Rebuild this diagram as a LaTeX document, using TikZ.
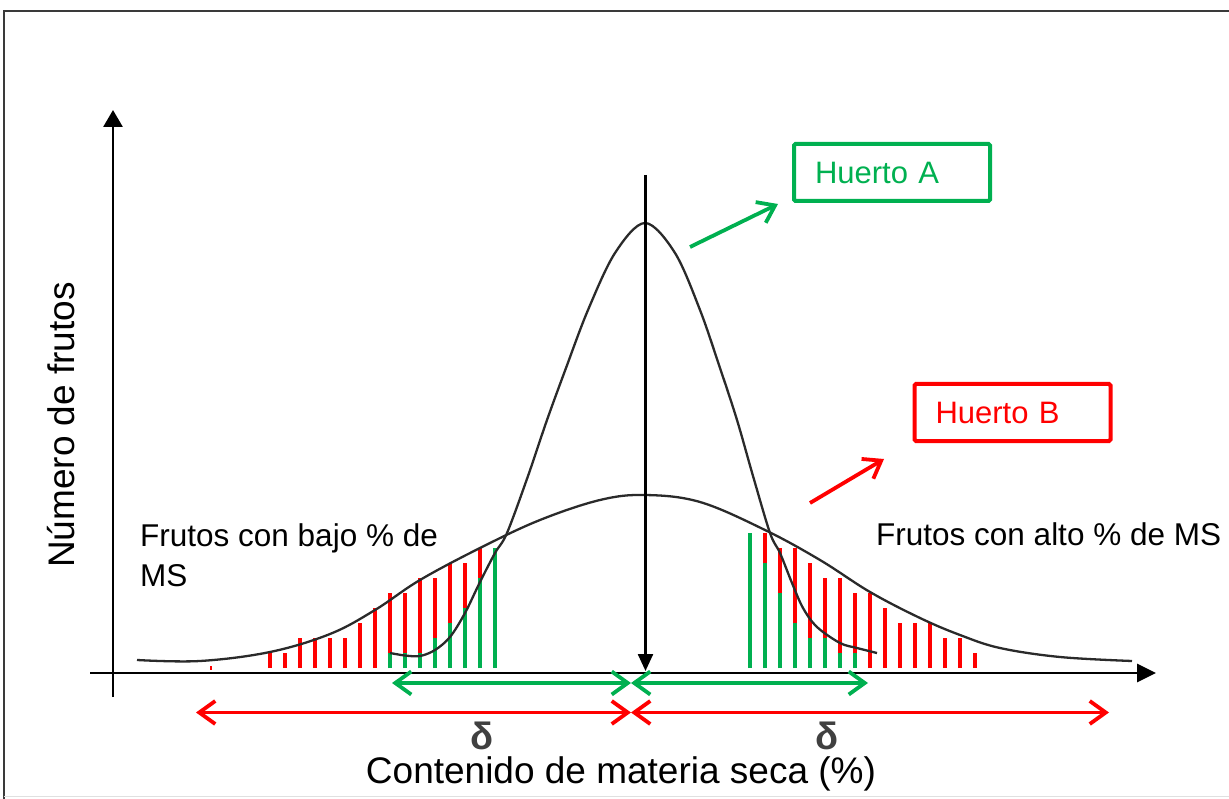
\documentclass[tikz,border=0pt]{standalone}
\usepackage{fontspec}
\setmainfont{Liberation Sans}
\usetikzlibrary{arrows.meta}
\definecolor{hgreen}{HTML}{00B050}
\definecolor{hred}{HTML}{FF0000}
\definecolor{curvegray}{HTML}{2A2A2A}
\definecolor{deltagray}{HTML}{404040}
\definecolor{framegray}{HTML}{3A3A3A}
\tikzset{barbtip/.tip={Straight Barb[length=16pt,width=23pt,line width=3.8pt]}}
\begin{document}
\begin{tikzpicture}[x=1pt,y=-1pt,
  axis/.style={line width=2.8pt,black,-{Triangle[length=17pt,width=19pt]}},
  curve/.style={line width=2.3pt,curvegray},
  redbar/.style={line width=4.5pt,hred},
  greenbar/.style={line width=4.5pt,hgreen},
  garrow/.style={line width=3.8pt,hgreen,barbtip-barbtip},
  rarrow/.style={line width=3.8pt,hred,barbtip-barbtip},
  gpointer/.style={line width=3.8pt,hgreen,-barbtip},
  rpointer/.style={line width=3.8pt,hred,-barbtip},
  huertobox/.style={draw,line width=4pt,rounded corners=1.5pt,minimum width=196pt,minimum height=57pt,
     inner xsep=20pt,text width=154pt,align=left,font=\fontsize{31}{36}\selectfont},
  lbl/.style={font=\fontsize{31.5}{40}\selectfont,align=left,inner sep=0pt},
  axlbl/.style={font=\fontsize{37}{44}\selectfont,inner sep=0pt},
  deltalbl/.style={font=\fontsize{38}{44}\selectfont\bfseries,text=deltagray,inner sep=0pt}
]
\useasboundingbox (0,0) rectangle (1229,799);
\clip (0,0) rectangle (1229,799);
% frame
\draw[line width=2.6pt,framegray] (4,800) -- (4,11) -- (1235,11);
\draw[line width=1pt,black!12] (4,796) -- (1235,796);

% bars left
\draw[redbar,line width=2pt] (210.7,666) -- (210.7,669.5);
\foreach \x/\t in {270/653,285/653,300/638,315/638,330/638,345/638,360/623,375/608,390/593,405/593,420/578,435/578,450/563,465/563,480/548}
  \draw[redbar] (\x,668) -- (\x,\t);
\foreach \x/\t in {390/653,405/653,420/653,435/638,450/623,465/608,480/578,495/548}
  \draw[greenbar] (\x,668) -- (\x,\t);
% bars right
\foreach \x/\t in {765/533,780/548,795/548,810/563,825/578,840/578,855/593,870/593,885/608,900/623,915/623,930/623,945/638,960/638,975/653}
  \draw[redbar] (\x,668) -- (\x,\t);
\foreach \x/\t in {750/533,765/563,780/593,795/623,810/638,825/638,840/653,855/653}
  \draw[greenbar] (\x,668) -- (\x,\t);

% curves
\draw[curve] plot[smooth,tension=0.6] coordinates {(137,660) (200,661) (270,652) (330,634) (375,610) (420,580) (480,548) (540,520) (600,500) (645,495) (700,502) (765,530) (820,560) (870,592) (920,618) (960,635) (1000,648) (1060,657) (1132,661)};
\draw[curve] plot[smooth,tension=0.55] coordinates {(390,653) (405,655.5) (420,656) (435,650) (450,637) (465,613) (480,582) (495,553) (507,533) (528,476) (547,420) (566,368) (588,310) (615,253) (645,223) (675,253) (700,310) (720,368) (737,420) (753,476) (770,533) (780,553) (792,583) (803,608) (817,627) (840,643) (857,648) (877,653)};

% axes
\coordinate (yb) at (113,697);
\coordinate (yt) at (113,110);
\coordinate (xl) at (90,673);
\coordinate (xr) at (1156,673);
\coordinate (vt) at (645.5,175);
\coordinate (vb) at (645.5,671);
\draw[axis] (yb) -- (yt);
\draw[axis,-{Triangle[length=19pt,width=18pt]}] (xl) -- (xr);
\draw[axis,line width=2.4pt,-{Triangle[length=17pt,width=15pt]}] (vt) -- (vb);

% delta arrows
\coordinate (gl) at (392,683);
\coordinate (gm) at (631,683);
\coordinate (gr) at (868,683);
\coordinate (rl) at (196,712.5);
\coordinate (rm) at (631,712.5);
\coordinate (rr) at (1109,712.5);
\draw[garrow] (gl) -- (gm);
\draw[garrow] (gm) -- (gr);
\draw[rarrow] (rl) -- (rm);
\draw[rarrow] (rm) -- (rr);

% huerto boxes
\node[huertobox,hgreen] (ha) at (892,172.5) {Huerto A};
\node[huertobox,hred] (hb) at (1012.5,412.5) {Huerto B};
\coordinate (pas) at (690,247);
\coordinate (pae) at (778,204);
\coordinate (pbs) at (810,503);
\coordinate (pbe) at (884,459);
\draw[gpointer] (pas) -- (pae);
\draw[rpointer] (pbs) -- (pbe);

% labels
\node[lbl,anchor=base west] (bajo) at (140,586) {Frutos con bajo \% de\\MS};
\node[lbl,anchor=base west] (alto) at (876,545) {Frutos con alto \% de MS};
\node[deltalbl] (d1) at (482,736) {δ};
\node[deltalbl] (d2) at (827,736) {δ};
\node[axlbl,anchor=base] (xlab) at (621,783) {Contenido de materia seca (\%)};
\node[axlbl,anchor=base,rotate=90] (ylab) at (74,425) {Número de frutos};
\end{tikzpicture}
\end{document}
